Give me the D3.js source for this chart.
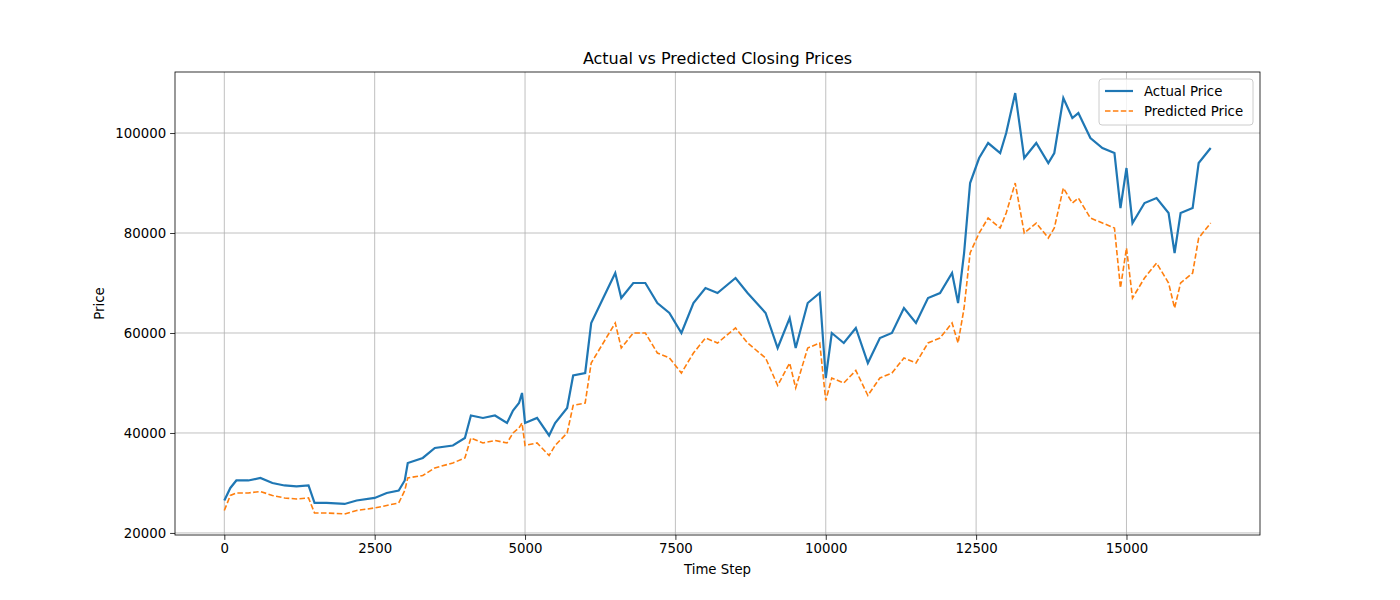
<!DOCTYPE html>
<html>
<head>
<meta charset="utf-8">
<script src="https://cdn.jsdelivr.net/npm/d3@7"></script>
<style>
  body { margin: 0; background: #fff; }
  text { font-family: "DejaVu Sans", sans-serif; }
</style>
</head>
<body>
<svg id="chart" width="1400" height="600"></svg>
<script>
var steps = [0,100,200,400,600,800,1000,1200,1400,1500,1700,2000,2200,2500,2700,2900,3000,3050,3300,3500,3800,4000,4100,4300,4500,4700,4800,4900,4950,5000,5200,5400,5500,5700,5800,6000,6100,6300,6500,6600,6800,7000,7200,7400,7600,7800,8000,8200,8500,8700,9000,9200,9400,9500,9700,9900,10000,10100,10300,10500,10700,10900,11100,11300,11500,11700,11900,12100,12200,12300,12400,12550,12700,12900,13000,13150,13300,13500,13700,13800,13950,14100,14200,14400,14600,14800,14900,15000,15100,15300,15500,15700,15800,15900,16100,16200,16400];
var actual = [26500,29000,30500,30500,31000,30000,29500,29300,29500,26000,26000,25800,26500,27000,28000,28500,30500,34000,35000,37000,37500,39000,43500,43000,43500,42000,44500,46000,48000,42000,43000,39500,42000,45000,51500,52000,62000,67000,72000,67000,70000,70000,66000,64000,60000,66000,69000,68000,71000,68000,64000,57000,63000,57000,66000,68000,51000,60000,58000,61000,54000,59000,60000,65000,62000,67000,68000,72000,66000,76000,90000,95000,98000,96000,100000,108000,95000,98000,94000,96000,107000,103000,104000,99000,97000,96000,85000,93000,82000,86000,87000,84000,76000,84000,85000,94000,97000];
var predicted = [24500,27500,28000,28000,28300,27500,27000,26800,27000,24000,24000,23800,24500,25000,25500,26000,28500,31000,31500,33000,34000,35000,39000,38000,38500,38000,40000,41000,42000,37500,38000,35500,37500,40000,45500,46000,54000,58000,62000,57000,60000,60000,56000,55000,52000,56000,59000,58000,61000,58000,55000,49500,54000,49000,57000,58000,46500,51000,50000,52500,47500,51000,52000,55000,54000,58000,59000,62000,58000,65000,76000,80000,83000,81000,84000,90000,80000,82000,79000,81000,89000,86000,87000,83000,82000,81000,69000,77000,67000,71000,74000,70000,65000,70000,72000,79000,82000];
var xTicks = [0,2500,5000,7500,10000,12500,15000];
var yTicks = [20000,40000,60000,80000,100000];

var svg = d3.select("#chart");
var margin = {top: 72, right: 140, bottom: 65, left: 175};
var width = 1400 - margin.left - margin.right,
    height = 600 - margin.top - margin.bottom;
var g = svg.append("g").attr("transform", "translate(" + margin.left + "," + margin.top + ")");

var xMax = d3.max(steps), xPad = xMax * 0.05;
var yMin = d3.min(predicted.concat(actual)), yMax = d3.max(predicted.concat(actual)), yPad = (yMax - yMin) * 0.05;
var x = d3.scaleLinear().domain([-xPad, xMax + xPad]).range([0, width]);
var y = d3.scaleLinear().domain([yMin - yPad, yMax + yPad]).range([height, 0]);

// grid
g.selectAll(".gx").data(xTicks).enter().append("line")
  .attr("x1", function(d) { return x(d); }).attr("x2", function(d) { return x(d); })
  .attr("y1", 0).attr("y2", height).attr("stroke", "#b0b0b0").attr("stroke-width", 0.8);
g.selectAll(".gy").data(yTicks).enter().append("line")
  .attr("y1", function(d) { return y(d); }).attr("y2", function(d) { return y(d); })
  .attr("x1", 0).attr("x2", width).attr("stroke", "#b0b0b0").attr("stroke-width", 0.8);

var line = function(vals) {
  return d3.line().x(function(d, i) { return x(steps[i]); }).y(function(d) { return y(d); })(vals);
};
g.append("path").attr("d", line(actual)).attr("fill", "none").attr("stroke", "#1f77b4").attr("stroke-width", 2.2);
g.append("path").attr("d", line(predicted)).attr("fill", "none").attr("stroke", "#ff7f0e")
  .attr("stroke-width", 1.6).attr("stroke-dasharray", "5.5,2.4");

// axes
var xa = g.append("g").attr("transform", "translate(0," + height + ")")
  .call(d3.axisBottom(x).tickValues(xTicks).tickFormat(d3.format("d")).tickSize(4.9).tickPadding(4));
var ya = g.append("g").call(d3.axisLeft(y).tickValues(yTicks).tickFormat(d3.format("d")).tickSize(4.9).tickPadding(4));
[xa, ya].forEach(function(a) {
  a.select(".domain").remove();
  a.selectAll("text").style("font-size", "13.3px").attr("fill", "#000");
  a.selectAll("line").attr("stroke", "#000").attr("stroke-width", 0.8);
});
g.append("rect").attr("width", width).attr("height", height).attr("fill", "none").attr("stroke", "#000").attr("stroke-width", 0.8);

svg.append("text").attr("x", margin.left + width / 2).attr("y", 64).attr("text-anchor", "middle")
  .style("font-size", "16px").text("Actual vs Predicted Closing Prices");
svg.append("text").attr("x", margin.left + width / 2).attr("y", 574).attr("text-anchor", "middle")
  .style("font-size", "13.3px").text("Time Step");
svg.append("text").attr("transform", "translate(104," + (margin.top + height / 2) + ") rotate(-90)")
  .attr("text-anchor", "middle").style("font-size", "13.3px").text("Price");

// legend
var lg = svg.append("g").attr("transform", "translate(1099,79)");
lg.append("rect").attr("width", 154).attr("height", 46).attr("rx", 3).attr("fill", "#fff")
  .attr("fill-opacity", 0.8).attr("stroke", "#ccc");
lg.append("line").attr("x1", 6).attr("x2", 34).attr("y1", 12).attr("y2", 12).attr("stroke", "#1f77b4").attr("stroke-width", 2.2);
lg.append("line").attr("x1", 6).attr("x2", 34).attr("y1", 32).attr("y2", 32).attr("stroke", "#ff7f0e")
  .attr("stroke-width", 1.6).attr("stroke-dasharray", "5.5,2.4");
lg.append("text").attr("x", 45).attr("y", 17).style("font-size", "13.3px").text("Actual Price");
lg.append("text").attr("x", 45).attr("y", 37).style("font-size", "13.3px").text("Predicted Price");
</script>
</body>
</html>
